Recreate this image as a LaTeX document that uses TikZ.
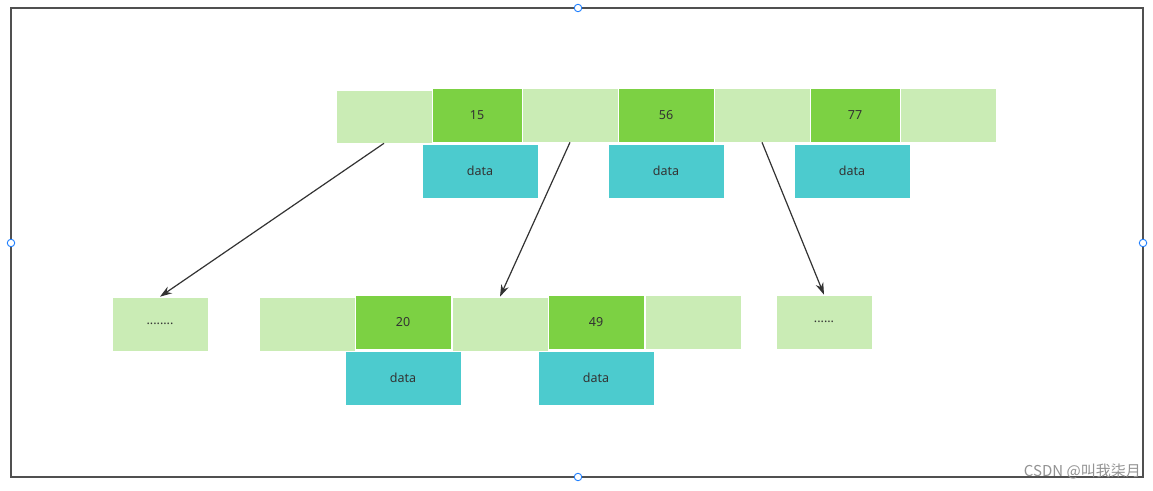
\documentclass[tikz,border=0pt]{standalone}
\usepackage{fontspec}
\setmainfont{Noto Sans}
\newfontfamily\cjk{Noto Sans CJK SC}
\usetikzlibrary{arrows.meta}
\definecolor{lightg}{RGB}{202,236,181}
\definecolor{darkg}{RGB}{124,209,67}
\definecolor{tealc}{RGB}{76,203,206}
\definecolor{txt}{RGB}{51,51,51}
\definecolor{framec}{RGB}{80,80,80}
\definecolor{handle}{RGB}{30,127,255}
\tikzset{
  box/.style={rectangle, minimum height=54pt, minimum width=96pt, inner sep=0pt, draw=white, line width=0.6pt, text=txt, font=\fontsize{12.5}{14}\selectfont},
  lg/.style={box, fill=lightg},
  dg/.style={box, fill=darkg},
  dt/.style={box, fill=tealc, minimum width=116pt},
  link/.style={draw=txt, line width=1.2pt, -{Stealth[length=12pt,width=8pt]}},
  hdl/.style={circle, draw=handle, fill=white, line width=0.9pt, minimum size=7.5pt, inner sep=0pt}
}
\begin{document}
\begin{tikzpicture}[x=1pt,y=-1pt]
\useasboundingbox (0,0) rectangle (1153,490);
\fill[white] (0,0) rectangle (1153,490);
% frame
\draw[framec, line width=1.5pt] (11,8) rectangle (1143,477);
% top node
\node[lg, minimum height=53pt] (a0) at (384,116.5) {};
\node[dg, minimum width=90pt] (k15) at (477,115) {15};
\node[lg] (a1) at (570,115) {};
\node[dg] (k56) at (666,115) {56};
\node[lg] (a2) at (762,115) {};
\node[dg, minimum width=90pt] (k77) at (855,115) {77};
\node[lg] (a3) at (948,115) {};
\node[dt] (d15) at (480,171) {data};
\node[dt] (d56) at (666,171) {data};
\node[dt] (d77) at (852,171) {data};
% bottom row
\node[lg] (l0) at (160,324) {........};
\node[lg] (b0) at (307,324) {};
\node[dg] (k20) at (403,322) {20};
\node[lg] (b1) at (500,324) {};
\node[dg] (k49) at (596,322) {49};
\node[lg] (b2) at (693,322) {};
\node[lg] (r0) at (824,322) {......};
\node[dt] (d20) at (403,378) {data};
\node[dt] (d49) at (596,378) {data};
% connectors
\draw[link] (a0.south) -- (l0.north);
\draw[link] (a1.south) -- (b1.north);
\draw[link] (a2.south) -- (r0.north);
% selection handles
\node[hdl] (h1) at (578,8) {};
\node[hdl] (h2) at (578,477) {};
\node[hdl] (h3) at (11,243) {};
\node[hdl] (h4) at (1143,243) {};
% watermark
\node[text=gray!85, font=\cjk\fontsize{15}{17}\selectfont, anchor=east, inner sep=0pt] (wm) at (1141,471) {CSDN @叫我柒月};
\end{tikzpicture}
\end{document}
